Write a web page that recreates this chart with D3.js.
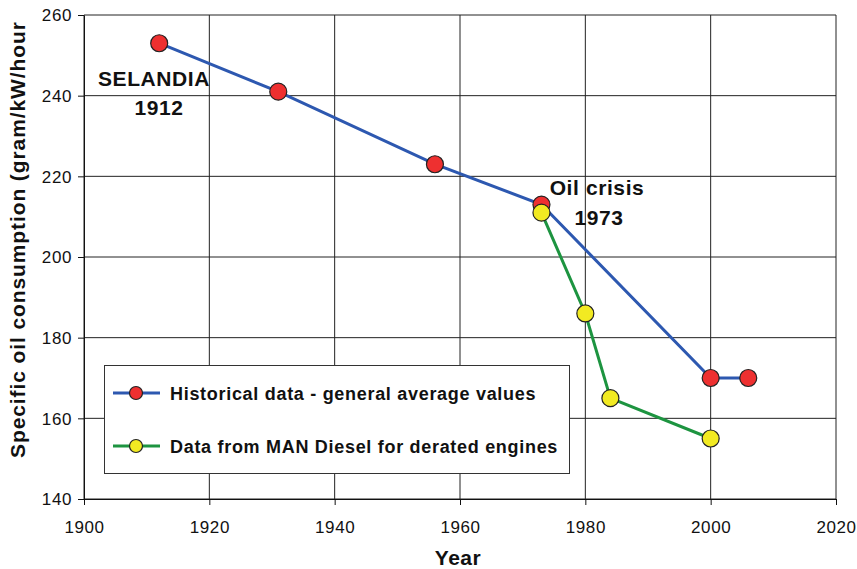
<!DOCTYPE html>
<html>
<head>
<meta charset="utf-8">
<script src="https://cdn.jsdelivr.net/npm/d3@7"></script>
<style>
  body { margin: 0; background: #fff; }
  svg text { font-family: "Liberation Sans", Arial, sans-serif; fill: #111; }
</style>
</head>
<body>
<div class="Content"></div>
<script>
// data
var histYears  = [1912, 1931, 1956, 1973, 2000, 2006];
var histValues = [253, 241, 223, 213, 170, 170];
var manYears   = [1973, 1980, 1984, 2000];
var manValues  = [211, 186, 165, 155];
var xTicks = [1900, 1920, 1940, 1960, 1980, 2000, 2020];
var yTicks = [140, 160, 180, 200, 220, 240, 260];
var seriesNames = ["Historical data - general average values", "Data from MAN Diesel for derated engines"];

var w_view = 857, h_view = 569;
var m = {top: 15, right: 21, bottom: 70, left: 84};

var svg = d3.select(".Content").append("svg")
  .attr("width", w_view).attr("height", h_view);

var x = d3.scaleLinear().domain([1900, 2020]).range([m.left, w_view - m.right]);
var y = d3.scaleLinear().domain([140, 260]).range([h_view - m.bottom, m.top]);

// grid
svg.append("g").selectAll("line").data(xTicks).join("line")
  .attr("x1", d => x(d)).attr("x2", d => x(d))
  .attr("y1", y(260)).attr("y2", y(140))
  .attr("stroke", "#222").attr("stroke-width", 1);
svg.append("g").selectAll("line").data(yTicks).join("line")
  .attr("x1", x(1900)).attr("x2", x(2020))
  .attr("y1", d => y(d)).attr("y2", d => y(d))
  .attr("stroke", "#222").attr("stroke-width", 1);

// axes
var xAxis = svg.append("g")
  .attr("transform", "translate(0," + y(140) + ")")
  .call(d3.axisBottom(x).tickValues(xTicks).tickFormat(d3.format("d")).tickSize(6).tickSizeOuter(0));
var yAxis = svg.append("g")
  .attr("transform", "translate(" + x(1900) + ",0)")
  .call(d3.axisLeft(y).tickValues(yTicks).tickSize(6).tickSizeOuter(0));
[xAxis, yAxis].forEach(a => {
  a.selectAll("path, line").attr("stroke", "#111");
  a.selectAll("text").style("font-size", "17px").style("letter-spacing", "0.6px").attr("fill", "#111");
});
xAxis.selectAll("text").attr("y", 34).attr("dy", 0);
yAxis.selectAll("text").attr("dy", "0.35em").attr("x", -12);

// axis titles
svg.append("text")
  .attr("x", 458).attr("y", 565)
  .attr("text-anchor", "middle")
  .style("font-size", "21px").style("font-weight", "bold").style("letter-spacing", "0.5px")
  .text("Year");
svg.append("text")
  .attr("transform", "rotate(-90)")
  .attr("x", -458).attr("y", 25)
  .attr("text-anchor", "start")
  .style("font-size", "21px").style("font-weight", "bold").style("letter-spacing", "0.9px")
  .text("Specific oil consumption (gram/kW/hour");

// series
var hist = histYears.map((d, i) => ({year: d, value: histValues[i]}));
var man = manYears.map((d, i) => ({year: d, value: manValues[i]}));
var line = d3.line().x(d => x(d.year)).y(d => y(d.value));

function drawSeries(data, lineColor, dotColor) {
  svg.append("path").datum(data)
    .attr("d", line).attr("fill", "none")
    .attr("stroke", lineColor).attr("stroke-width", 3);
  svg.append("g").selectAll("circle").data(data).join("circle")
    .attr("cx", d => x(d.year)).attr("cy", d => y(d.value))
    .attr("r", 8.5).attr("fill", dotColor)
    .attr("stroke", "#222").attr("stroke-width", 1.2);
}
drawSeries(hist, "#2d58b0", "#ee3030");
drawSeries(man, "#1d9440", "#f2ea22");

// annotations
var ann = svg.append("g").style("font-size", "21px").style("font-weight", "bold")
  .style("letter-spacing", "0.6px").attr("text-anchor", "middle");
ann.append("text").attr("x", 154).attr("y", 86).text("SELANDIA");
ann.append("text").attr("x", 159).attr("y", 115).text("1912");
ann.append("text").attr("x", 597).attr("y", 195).text("Oil crisis");
ann.append("text").attr("x", 599).attr("y", 225).text("1973");

// legend
var legend = svg.append("g");
legend.append("rect")
  .attr("x", 104.5).attr("y", 365.5).attr("width", 465).attr("height", 108)
  .attr("fill", "#fff").attr("stroke", "#333").attr("stroke-width", 1);
var legendColors = [["#2d58b0", "#ee3030"], ["#1d9440", "#f2ea22"]];
seriesNames.forEach((name, i) => {
  var ly = 393 + i * 53;
  legend.append("line").attr("x1", 113).attr("x2", 160).attr("y1", ly).attr("y2", ly)
    .attr("stroke", legendColors[i][0]).attr("stroke-width", 3);
  legend.append("circle").attr("cx", 136).attr("cy", ly).attr("r", 6.5)
    .attr("fill", legendColors[i][1]).attr("stroke", "#222").attr("stroke-width", 1.2);
  legend.append("text").attr("x", 170).attr("y", ly + 7)
    .style("font-size", "18px").style("font-weight", "bold").style("letter-spacing", "0.7px")
    .text(name);
});
</script>
</body>
</html>
